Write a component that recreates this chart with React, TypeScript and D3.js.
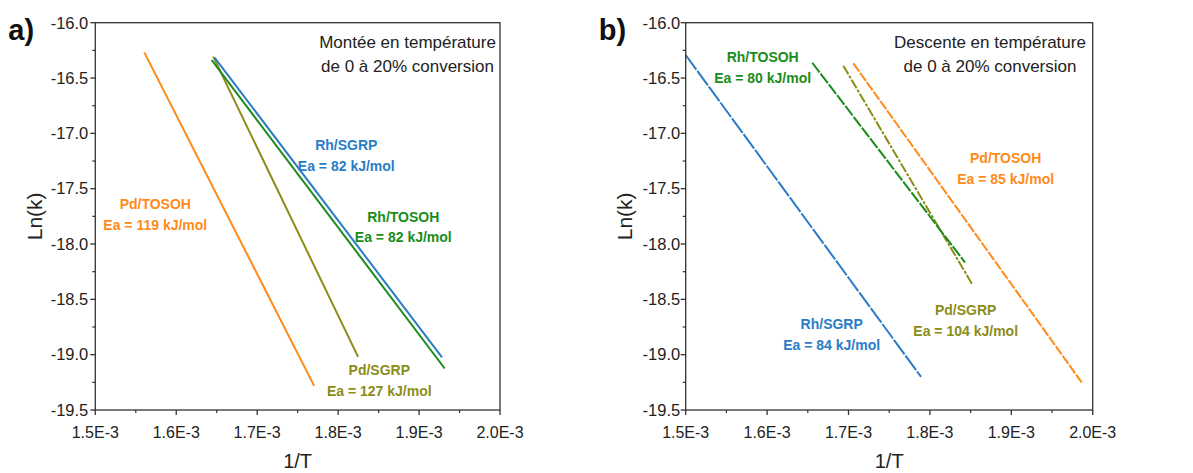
import React from "react";
import * as d3 from "d3";

// ---- data ----
const seriesNames = ["Pd/TOSOH", "Pd/SGRP", "Rh/SGRP", "Rh/TOSOH"];
const seriesColors = ["#FF8A1A", "#8C8C19", "#2A7CC7", "#1A8C1A"];

// panel a) Montée en température (1/T, Ln(k)) fitted line end points
const riseX = [
  [1.5605e-3, 1.7704e-3],
  [1.6457e-3, 1.8247e-3],
  [1.6474e-3, 1.9284e-3],
  [1.6437e-3, 1.9317e-3],
];
const riseY = [
  [-16.268, -19.282],
  [-16.307, -19.02],
  [-16.315, -19.025],
  [-16.337, -19.125],
];
const riseEa = [119, 127, 82, 82];

// panel b) Descente en température
const fallX = [
  [1.7059e-3, 1.9865e-3],
  [1.6936e-3, 1.8521e-3],
  [1.5e-3, 1.7891e-3],
  [1.6555e-3, 1.8431e-3],
];
const fallY = [
  [-16.367, -19.251],
  [-16.389, -18.365],
  [-16.292, -19.201],
  [-16.362, -18.166],
];
const fallEa = [85, 104, 84, 80];

const xTicks = [1.5e-3, 1.6e-3, 1.7e-3, 1.8e-3, 1.9e-3, 2.0e-3];
const yTicks = [-16.0, -16.5, -17.0, -17.5, -18.0, -18.5, -19.0, -19.5];

// ---- layout ----
const W = 1193;
const H = 473;
const TOP = 22.7;
const BOTTOM = 410;
const FONT = "'Liberation Sans', Arial, Helvetica, sans-serif";

// label anchor positions, in pixels relative to the plot's left edge (dx) and absolute y
const riseLabelPos = [
  { dx: 60, y: 209 },
  { dx: 284, y: 375 },
  { dx: 251, y: 150 },
  { dx: 308, y: 221.5 },
];
const fallLabelPos = [
  { dx: 320, y: 163.3 },
  { dx: 280, y: 315 },
  { dx: 146, y: 329.3 },
  { dx: 77, y: 62 },
];
const fallDash = ["10,1.6", "10,1.6,3,1.6", "18,1.6", "12,1.6"];

type PanelProps = {
  left: number;
  right: number;
  tag: string;
  title1: string;
  title2: string;
  titleDx: number;
  xs: number[][];
  ys: number[][];
  ea: number[];
  labelPos: { dx: number; y: number }[];
  dashed: boolean;
  labelGap: number;
};

function Panel(p: PanelProps) {
  const x = d3.scaleLinear().domain([1.5e-3, 2.0e-3]).range([p.left, p.right]);
  const y = d3.scaleLinear().domain([-19.5, -16.0]).range([BOTTOM, TOP]);
  const line = d3
    .line<[number, number]>()
    .x((d) => x(d[0]))
    .y((d) => y(d[1]));
  const xMinor = d3.range(0, 5).map((i) => 1.55e-3 + i * 1e-4);
  const yMinor = d3.range(0, 7).map((i) => -16.25 - i * 0.5);
  const cx = (p.left + p.right) / 2;
  const axisColor = "#333";
  return (
    <g>
      {/* series */}
      {p.xs.map((xx, i) => (
        <path
          key={"s" + i}
          d={line([
            [xx[0], p.ys[i][0]],
            [xx[1], p.ys[i][1]],
          ]) || ""}
          fill="none"
          stroke={seriesColors[i]}
          strokeWidth={2}
          strokeDasharray={p.dashed ? fallDash[i] : undefined}
        />
      ))}
      {/* frame */}
      <rect
        x={p.left}
        y={TOP}
        width={p.right - p.left}
        height={BOTTOM - TOP}
        fill="none"
        stroke={axisColor}
        strokeWidth={1.3}
      />
      {/* y ticks */}
      {yTicks.map((t) => (
        <g key={"y" + t}>
          <line x1={p.left - 5} x2={p.left} y1={y(t)} y2={y(t)} stroke={axisColor} strokeWidth={1.3} />
          <text
            x={p.left - p.labelGap}
            y={y(t) + 5.8}
            textAnchor="end"
            fontFamily={FONT}
            fontSize={16.5}
            fill="#222"
          >
            {t.toFixed(1)}
          </text>
        </g>
      ))}
      {yMinor.map((t) => (
        <line key={"ym" + t} x1={p.left - 3} x2={p.left} y1={y(t)} y2={y(t)} stroke={axisColor} strokeWidth={1.2} />
      ))}
      {/* x ticks */}
      {xTicks.map((t) => (
        <g key={"x" + t}>
          <line x1={x(t)} x2={x(t)} y1={BOTTOM} y2={BOTTOM + 5} stroke={axisColor} strokeWidth={1.3} />
          <text x={x(t)} y={438} textAnchor="middle" fontFamily={FONT} fontSize={16} fill="#222">
            {(t * 1e3).toFixed(1) + "E-3"}
          </text>
        </g>
      ))}
      {xMinor.map((t) => (
        <line key={"xm" + t} x1={x(t)} x2={x(t)} y1={BOTTOM} y2={BOTTOM + 3} stroke={axisColor} strokeWidth={1.2} />
      ))}
      {/* axis titles */}
      <text x={cx} y={468} textAnchor="middle" fontFamily={FONT} fontSize={20} fill="#222">
        1/T
      </text>
      <text
        transform={`translate(${p.left - 61},${(TOP + BOTTOM) / 2}) rotate(-90)`}
        textAnchor="middle"
        dominantBaseline="central"
        fontFamily={FONT}
        fontSize={21}
        fill="#222"
      >
        Ln(k)
      </text>
      {/* panel tag */}
      <text x={p.left - 87} y={40} fontFamily={FONT} fontWeight="bold" fontSize={29} fill="#111">
        {p.tag}
      </text>
      {/* condition annotation */}
      <text x={p.right + p.titleDx} y={47.5} textAnchor="middle" fontFamily={FONT} fontSize={17} fill="#222">
        {p.title1}
      </text>
      <text x={p.right + p.titleDx} y={71.5} textAnchor="middle" fontFamily={FONT} fontSize={17} fill="#222">
        {p.title2}
      </text>
      {/* series labels */}
      {seriesNames.map((n, i) => (
        <g key={"l" + i} fill={seriesColors[i]} fontFamily={FONT} fontWeight="bold" fontSize={14}>
          <text x={p.left + p.labelPos[i].dx} y={p.labelPos[i].y} textAnchor="middle">
            {n}
          </text>
          <text x={p.left + p.labelPos[i].dx} y={p.labelPos[i].y + 20.5} textAnchor="middle">
            {`Ea = ${p.ea[i]} kJ/mol`}
          </text>
        </g>
      ))}
    </g>
  );
}

export default function App() {
  return (
    <svg
      width={W}
      height={H}
      viewBox={`0 0 ${W} ${H}`}
      style={{ position: "absolute", left: 0, top: 0, background: "#fff" }}
    >
      <rect x={0} y={0} width={W} height={H} fill="#fff" />
      <Panel
        left={95.3}
        right={500}
        tag="a)"
        title1="Montée en température"
        title2="de 0 à 20% conversion"
        titleDx={-92.5}
        xs={riseX}
        ys={riseY}
        ea={riseEa}
        labelPos={riseLabelPos}
        dashed={false}
        labelGap={7}
      />
      <Panel
        left={685.7}
        right={1092.7}
        tag="b)"
        title1="Descente en température"
        title2="de 0 à 20% conversion"
        titleDx={-102.7}
        xs={fallX}
        ys={fallY}
        ea={fallEa}
        labelPos={fallLabelPos}
        dashed={true}
        labelGap={5.5}
      />
    </svg>
  );
}
